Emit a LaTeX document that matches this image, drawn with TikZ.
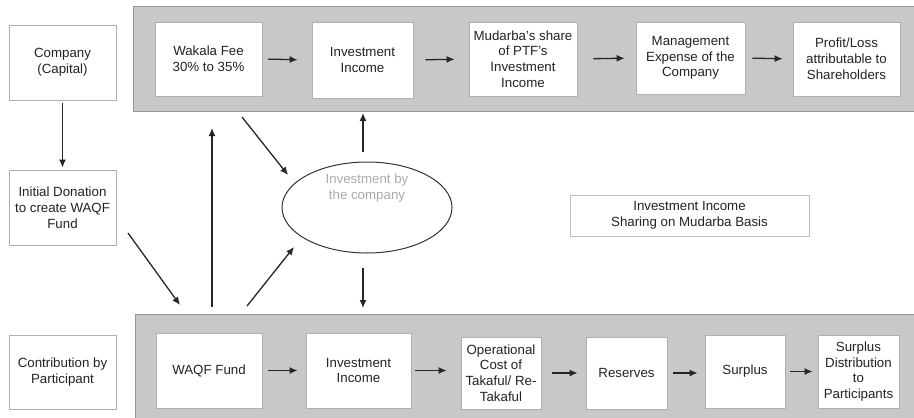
\documentclass[tikz,border=0pt]{standalone}
\usepackage{fontspec}
\setmainfont{Liberation Sans}
\usepackage{tikz}
\usetikzlibrary{positioning, arrows.meta, shapes.geometric}

\definecolor{bandgray}{RGB}{200,200,200}
\definecolor{bandedge}{RGB}{150,150,150}
\definecolor{boxedge}{RGB}{175,175,175}
\definecolor{txtgray}{RGB}{35,35,35}
\definecolor{palegray}{RGB}{170,170,170}

\tikzset{
  band/.style={draw=bandedge, line width=1.2pt, fill=bandgray, anchor=north west, inner sep=0pt},
  flowbox/.style={draw=boxedge, line width=0.8pt, fill=white, align=center, inner sep=1pt,
    minimum height=74pt, text=txtgray, font=\fontsize{13.3}{15.8}\selectfont},
  arr/.style={-{Latex[length=8pt,width=7pt]}, line width=1.3pt, black!85},
}

\begin{document}
\begin{tikzpicture}[x=1pt, y=-1pt]
        \useasboundingbox (0,0) rectangle (914,418);

        % shaded bands
        \node[band, minimum width=790pt, minimum height=105pt] (topband) at (133,6) {};
        \node[band, minimum width=790pt, minimum height=115pt] (botband) at (135,314) {};

        % left column
        \node[flowbox, minimum width=107pt, minimum height=75pt] (comp) at (62.5,62.5) {Company\\(Capital)};
        \node[flowbox, minimum width=107pt, minimum height=75pt] (don) at (62.5,207.5) {Initial Donation\\to create WAQF\\Fund};
        \node[flowbox, minimum width=107pt] (contrib) at (62.5,372) {Contribution by\\Participant};

        % shareholders row
        \node[flowbox, minimum width=107pt] (wak) at (208.5,59) {Wakala Fee\\30\% to 35\%};
        \node[flowbox, minimum width=101pt, minimum height=76pt] (inv1) at (362.5,60) {Investment\\Income};
        \node[flowbox, minimum width=108pt] (mud) at (523,59) {Mudarba's share\\of PTF's\\Investment\\Income};
        \node[flowbox, minimum width=109pt, minimum height=72pt] (mgmt) at (690.5,58) {Management\\Expense of the\\Company};
        \node[flowbox, minimum width=107pt] (prof) at (846.5,59) {Profit/Loss\\attributable to\\Shareholders};

        % participants row
        \node[flowbox, minimum width=106pt, minimum height=75pt] (waqf) at (209,370.5) {WAQF Fund};
        \node[flowbox, minimum width=105pt, minimum height=75pt] (inv2) at (358.5,370.5) {Investment\\Income};
        \node[flowbox, minimum width=80pt, minimum height=72pt] (op) at (501,373) {Operational\\Cost of\\Takaful/ Re-\\Takaful};
        \node[flowbox, minimum width=81pt, minimum height=72pt] (res) at (626.5,373) {Reserves};
        \node[flowbox, minimum width=80pt, minimum height=73pt] (surp) at (745,371.5) {Surplus};
        \node[flowbox, minimum width=81pt, minimum height=73pt] (dist) at (858.5,371.5) {Surplus\\Distribution\\to\\Participants};

        % middle
        \node[ellipse, draw=black!80, line width=1pt, minimum width=170pt, minimum height=91pt] (ell) at (367,207.5) {};
        \node[text=palegray, align=center, font=\fontsize{13.3}{16}\selectfont] (elltext) at (367,188) {Investment by\\the company};
        \node[flowbox, draw=boxedge!80, minimum width=239pt, minimum height=41pt] (share) at (689.5,215.5) {Investment Income\\Sharing on Mudarba Basis};

        % free ends
        \coordinate (d1) at (128,233);
        \coordinate (d2) at (180,305);
        \coordinate (u1) at (212,307);
        \coordinate (u2) at (212,128);
        \coordinate (w1) at (242,117);
        \coordinate (w2) at (288,175);
        \coordinate (b1) at (247,306);
        \coordinate (b2) at (294,247);
        \coordinate (e1) at (363,152);
        \coordinate (e2) at (363,113);
        \coordinate (e3) at (363,268);
        \coordinate (e4) at (363,308);

        \draw[arr, shorten <=6pt, shorten >=14pt] (wak.east) -- (inv1.west);
        \draw[arr, shorten <=12pt, shorten >=14pt] (inv1.east) -- (mud.west);
        \draw[arr, shorten <=16pt, shorten >=11pt] (mud.east) -- (mgmt.west);
        \draw[arr, shorten <=7pt, shorten >=10pt] (mgmt.east) -- (prof.west);

        \draw[arr, shorten <=6pt, shorten >=8pt] (waqf.east) -- (inv2.west);
        \draw[arr, shorten <=4pt, shorten >=14pt] (inv2.east) -- (op.west |- inv2.east);
        \draw[arr, shorten <=11pt, shorten >=8pt] (op.east) -- (res.west);
        \draw[arr, shorten <=6pt, shorten >=7pt] (res.east) -- (surp.west |- res.east);
        \draw[arr, shorten <=5pt, shorten >=5pt] (surp.east) -- (dist.west);

        \draw[arr, shorten <=3pt, shorten >=2pt] (comp) -- (don);
        \draw[arr] (d1) -- (d2);
        \draw[arr] (u1) -- (u2);
        \draw[arr] (w1) -- (w2);
        \draw[arr] (b1) -- (b2);
        \draw[arr] (e1) -- (e2);
        \draw[arr] (e3) -- (e4);
\end{tikzpicture}
\end{document}
